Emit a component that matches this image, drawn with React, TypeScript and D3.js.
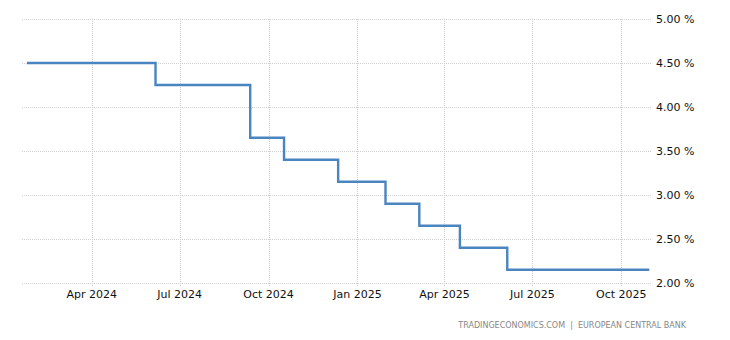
import React from "react";
import * as d3 from "d3";

const stepDates = [
  "2024-01-25", "2024-06-06", "2024-09-12", "2024-10-17", "2024-12-12",
  "2025-01-30", "2025-03-06", "2025-04-17", "2025-06-05", "2025-10-30",
];
const stepRates = [4.5, 4.25, 3.65, 3.4, 3.15, 2.9, 2.65, 2.4, 2.15, 2.15];

const xTickDates = ["2024-04-01", "2024-07-01", "2024-10-01", "2025-01-01", "2025-04-01", "2025-07-01", "2025-10-01"];
const xTickLabels = ["Apr 2024", "Jul 2024", "Oct 2024", "Jan 2025", "Apr 2025", "Jul 2025", "Oct 2025"];
const yTickValues = [2.0, 2.5, 3.0, 3.5, 4.0, 4.5, 5.0];
const yTickLabels = ["2.00 %", "2.50 %", "3.00 %", "3.50 %", "4.00 %", "4.50 %", "5.00 %"];
const sourceText = "TRADINGECONOMICS.COM  |  EUROPEAN CENTRAL BANK";

const W = 730;
const H = 340;
const FONT = "Tahoma, 'DejaVu Sans', sans-serif";

export default function App() {
  const parse = d3.utcParse("%Y-%m-%d");
  const data = stepDates.map((d, i) => ({ date: parse(d) as Date, value: stepRates[i] }));
  const x = d3
    .scaleUtc()
    .domain([parse("2024-01-25") as Date, parse("2025-10-30") as Date])
    .range([27, 649.3]);
  const y = d3.scaleLinear().domain([2, 5]).range([283, 19]);

  const line = d3
    .line<{ date: Date; value: number }>()
    .x((d) => x(d.date))
    .y((d) => y(d.value))
    .curve(d3.curveStepAfter);

  const gridLeft = 22;
  const gridRight = 652;
  const gridColor = "#cfcfcf";

  return (
    <svg
      width={W}
      height={H}
      style={{ position: "absolute", left: 0, top: 0, background: "#fff" }}
    >
      {yTickValues.map((v) => (
        <line
          key={"h" + v}
          x1={gridLeft}
          x2={gridRight}
          y1={Math.round(y(v)) + 0.5}
          y2={Math.round(y(v)) + 0.5}
          stroke={gridColor}
          strokeWidth={1}
          strokeDasharray="1,1"
        />
      ))}
      {xTickDates.map((d) => {
        const xx = Math.round(x(parse(d) as Date)) + 0.5;
        return (
          <line
            key={"v" + d}
            x1={xx}
            x2={xx}
            y1={y(5)}
            y2={y(2) + 4}
            stroke={gridColor}
            strokeWidth={1}
            strokeDasharray="1,1"
          />
        );
      })}
      <path
        d={line(data) || ""}
        fill="none"
        stroke="#4a85bf"
        strokeWidth={2.4}
        strokeLinejoin="miter"
      />
      {yTickValues.map((v, i) => (
        <text
          key={"yl" + v}
          x={656}
          y={y(v) + 4}
          fontFamily={FONT}
          fontSize={11}
          fill="#111"
        >
          {yTickLabels[i]}
        </text>
      ))}
      {xTickDates.map((d, i) => (
        <text
          key={"xl" + d}
          x={x(parse(d) as Date)}
          y={298}
          textAnchor="middle"
          fontFamily={FONT}
          fontSize={11}
          fill="#111"
        >
          {xTickLabels[i]}
        </text>
      ))}
      <text
        x={686}
        y={328}
        textAnchor="end"
        fontFamily={FONT}
        fontSize={8}
        fill="#888"
        style={{ whiteSpace: "pre" }}
      >
        {sourceText}
      </text>
    </svg>
  );
}
